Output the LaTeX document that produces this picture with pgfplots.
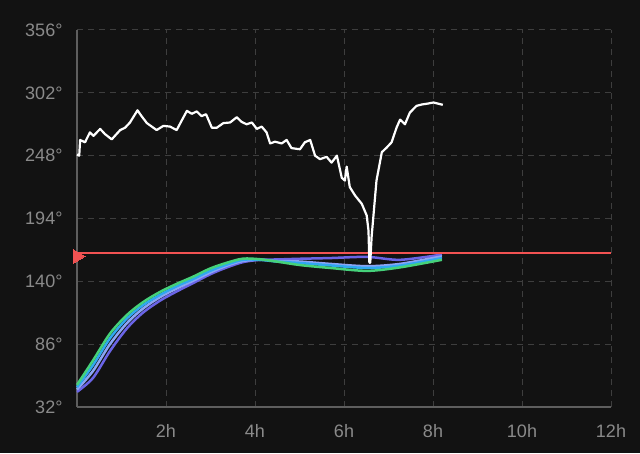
\documentclass[border=0pt]{standalone}
\usepackage{pgfplots}
\pgfplotsset{compat=1.18}
\usepackage{fontspec}
\setmainfont{Liberation Sans}
\definecolor{bg}{HTML}{121212}
\definecolor{gridc}{HTML}{3E3E3E}
\definecolor{axc}{HTML}{5E5E5E}
\definecolor{labc}{HTML}{8A8A8A}
\definecolor{cgreen}{HTML}{45D17A}
\definecolor{ccyan}{HTML}{2FA8F0}
\definecolor{clblue}{HTML}{8AA4F5}
\definecolor{cindigo}{HTML}{6A64E6}
\definecolor{redline}{HTML}{F25252}
\begin{document}
\begin{tikzpicture}
\fill[bg] (0,0) rectangle (640pt,453pt);
\useasboundingbox (0,0) rectangle (640pt,453pt);
\begin{axis}[
  at={(77pt,46pt)}, anchor=south west,
  scale only axis, width=534pt, height=377pt,
  xmin=0, xmax=12, ymin=32, ymax=356,
  xtick={2,4,6,8,10,12},
  xticklabels={2h,4h,6h,8h,10h,12h},
  ytick={32,86,140,194,248,302,356},
  yticklabels={32°,86°,140°,194°,248°,302°,356°},
  major tick length=0pt,
  grid=major,
  major grid style={gridc, dashed, dash pattern=on 6pt off 5pt, line width=1pt},
  axis x line*=bottom, axis y line*=left,
  axis line style={axc, line width=1.3pt, -},
  tick label style={font=\fontsize{18}{20}\selectfont, text=labc},
  xticklabel style={yshift=-14pt},
  yticklabel style={xshift=-11pt},
  clip=false,
]
\addplot[color=cindigo, line width=2.5pt, smooth, tension=0.5] coordinates {
(0,45) (0.36,57) (0.74,80) (1.12,99.5) (1.48,113) (1.87,123.5) (2.25,131.5) (2.61,138.5) (2.99,146) (3.37,152) (3.73,156.5) (4.11,158.5) (4.49,158.8) (5.01,159.4) (5.69,160) (6.52,161) (7.26,158.5) (8.2,163)};
\addplot[color=clblue, line width=2.5pt, smooth, tension=0.5] coordinates {
(0,47) (0.36,63) (0.74,86) (1.12,104) (1.48,116.5) (1.87,126.5) (2.25,134) (2.61,140.5) (2.99,147.5) (3.37,153.5) (3.73,157.5) (4.11,158.5) (4.49,157.5) (5.01,157) (5.69,155) (6.52,153) (7.26,155) (8.2,161.5)};
\addplot[color=ccyan, line width=2.5pt, smooth, tension=0.5] coordinates {
(0,49) (0.36,68) (0.74,91) (1.12,108) (1.48,119.5) (1.87,128.5) (2.25,136) (2.61,142) (2.99,149) (3.37,154.5) (3.73,158.5) (4.11,158.5) (4.49,157) (5.01,155.7) (5.69,153.7) (6.52,151.5) (7.26,153.5) (8.2,160)};
\addplot[color=cgreen, line width=2.5pt, smooth, tension=0.5] coordinates {
(0,51) (0.36,72) (0.74,95) (1.12,111) (1.48,122) (1.87,131) (2.25,138) (2.61,144) (2.99,151) (3.37,156) (3.73,159.5) (4.11,159) (4.49,157) (5.01,154) (5.69,151.5) (6.52,149) (7.26,152) (8.2,158.5)};
\addplot[color=redline, line width=1.9pt] coordinates {(0,164) (12,164)};
\addplot[color=redline, only marks, mark=triangle*, mark size=8pt, mark options={rotate=-90, xshift=3pt, fill=redline, draw=redline, line width=0pt}] coordinates {(0,164)};
\addplot[color=white, line width=2.2pt, line join=round] coordinates {
(0,249) (0.05,248) (0.07,261.5) (0.18,259.5) (0.29,268) (0.37,265) (0.52,271) (0.63,266.5) (0.78,262) (0.97,270) (1.08,272) (1.19,276.5) (1.36,287) (1.45,282) (1.57,276) (1.79,270) (1.94,273.6) (2.09,273) (2.24,270) (2.35,278) (2.47,286.5) (2.58,284) (2.69,286) (2.80,282) (2.90,283.6) (3.03,272) (3.14,272) (3.29,276) (3.44,276.5) (3.59,281) (3.70,277) (3.81,275) (3.93,276.5) (4.04,271) (4.15,273) (4.26,268) (4.34,258.5) (4.45,260) (4.60,258.5) (4.71,261.5) (4.82,254.5) (5.01,253.5) (5.12,259.5) (5.24,261.5) (5.35,248) (5.46,245) (5.61,247) (5.72,242) (5.84,248) (5.95,229) (6.02,226.6) (6.06,238.6) (6.13,221) (6.25,213.7) (6.40,206.6) (6.51,196.6) (6.55,183.7) (6.57,156) (6.59,156) (6.62,178) (6.73,226.6) (6.85,251) (6.96,255) (7.07,259.5) (7.18,272) (7.26,279) (7.37,275) (7.48,285) (7.63,290.8) (7.75,292) (7.89,292.8) (8.01,293.7) (8.22,291.7)};
\end{axis}
\end{tikzpicture}
\end{document}
